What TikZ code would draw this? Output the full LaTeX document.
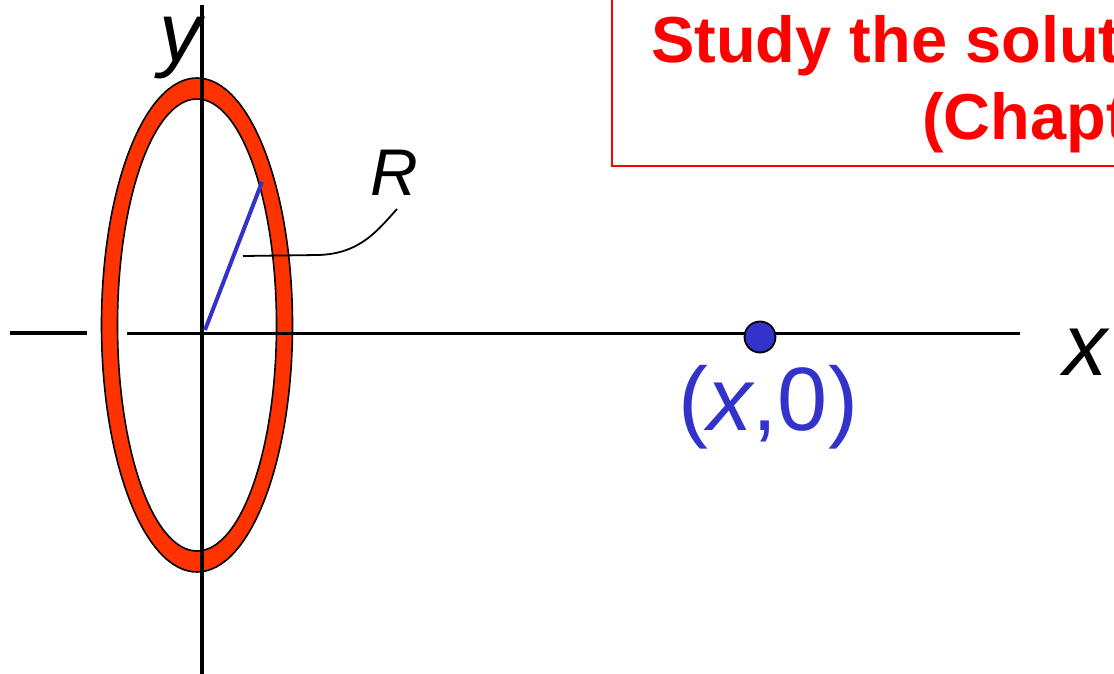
\documentclass[tikz,border=0pt]{standalone}
\usepackage{fontspec}
\setmainfont{Liberation Sans}
\definecolor{RINGred}{HTML}{FF3300}
\definecolor{PTblue}{HTML}{3333CC}
\definecolor{NOTEred}{HTML}{FF0000}
\usepackage{tikz}
\usetikzlibrary{positioning}

\begin{document}
\begin{tikzpicture}[x=1pt, y=-1pt]
\useasboundingbox (0,0) rectangle (1114,674);
\clip (0,0) rectangle (1114,674);

% charged ring seen edge-on
\filldraw[fill=RINGred, draw=black, line width=1.6pt, even odd rule]
  (197,325) ellipse [x radius=95.5, y radius=247]
  (197,325) ellipse [x radius=79.5, y radius=226];

% axes
\draw[line width=3.6pt] (202,5) -- (202,680);
\draw[line width=4pt] (10,333) -- (87,333);
\draw[line width=3pt] (127,333) -- (1020,333);

\node[anchor=base, inner sep=0,
  font=\fontsize{84}{84}\selectfont\itshape] (ylab) at (180,62) {y};
\node[anchor=base west, inner sep=0,
  font=\fontsize{88}{88}\selectfont\itshape] (xlab) at (1063,375) {x};

% radius
\coordinate (o) at (205,330);
\coordinate (rim) at (262,182);
\draw[PTblue, line width=4pt] (o) -- (rim);

\node[anchor=base west, inner sep=0,
  font=\fontsize{66}{66}\selectfont\itshape] (rlab) at (370,195) {R};
\coordinate (lead) at (243,256);
\coordinate (bend) at (318,255);
\coordinate (rtip) at (397,209);
\draw[line width=1.8pt]
  (lead) -- (bend) .. controls (360,254) and (378,230) .. (rtip);

% field point
\node[circle, fill=PTblue, draw=black, line width=1.8pt,
  minimum size=31pt, inner sep=0] (pt) at (760,337) {};
\node[anchor=base, inner sep=0, text=PTblue,
  font=\fontsize{90}{90}\selectfont] (ptlab) at (768,430) {(\textit{x},0)};

% note box
\draw[NOTEred, line width=1.8pt] (612,-5) rectangle (1130,166);
\node[anchor=base west, inner sep=0, text=NOTEred,
  font=\fontsize{65}{65}\selectfont\bfseries] (note) at (651,63) {Study the solut};
\node[anchor=base west, inner sep=0, text=NOTEred,
  font=\fontsize{65}{65}\selectfont\bfseries] (chap) at (922,140) {(Chapt};
\end{tikzpicture}
\end{document}
